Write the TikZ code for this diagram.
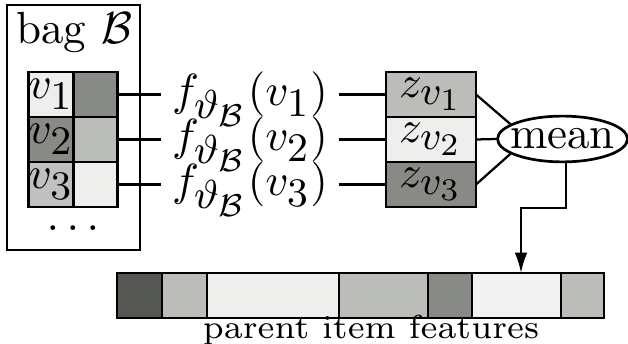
\documentclass[tikz,border=0pt]{standalone}
\usetikzlibrary{shapes.geometric,arrows.meta}
\DeclareMathSizes{10}{10}{9}{7}
\definecolor{gA}{HTML}{EEEEEC}
\definecolor{gB}{HTML}{BBBDB8}
\definecolor{gC}{HTML}{888A85}
\definecolor{gD}{HTML}{555753}
\definecolor{gE}{HTML}{C0C0C0}
\definecolor{gF}{HTML}{F2F2F2}
\begin{document}
\begin{tikzpicture}[x=0.2222pt,y=-0.2222pt,
  cell/.style={draw,line width=0.6pt,inner sep=0pt,outer sep=0pt,minimum width=9.8pt,minimum height=10pt},
  zcell/.style={cell,minimum width=20pt},
  wire/.style={line width=0.5pt},
  flab/.style={anchor=base,inner xsep=2.2pt,inner ysep=0pt},
  lab/.style={inner sep=0pt}]
\useasboundingbox (0,0) rectangle (628,344);
% bag
\node[draw,line width=0.6pt,inner sep=0pt,minimum width=29.55pt,minimum height=54.4pt] (bag) at (73.5,127.5) {};
\node[lab] (bagt) at (74,33) {bag $\mathcal{B}$};
\node[cell,fill=gA] (a1) at (51,94.5) {$v_1$};
\node[cell,fill=gC] (b1) at (95.5,94.5) {};
\node[cell,fill=gC] (a2) at (51,139.5) {$v_2$};
\node[cell,fill=gB] (b2) at (95.5,139.5) {};
\node[cell,fill=gE] (a3) at (51,184.5) {$v_3$};
\node[cell,fill=gA] (b3) at (95.5,184.5) {};
\node[lab] (dots) at (73,228) {$\dots$};
% functions
\node[flab] (f1) at (250,106) {$f_{\vartheta_{\mathcal{B}}}(v_1)$};
\node[flab] (f2) at (250,151) {$f_{\vartheta_{\mathcal{B}}}(v_2)$};
\node[flab] (f3) at (250,196) {$f_{\vartheta_{\mathcal{B}}}(v_3)$};
% z
\node[zcell,fill=gB] (z1) at (431,94.5) {$z_{v_1}$};
\node[zcell,fill=gA] (z2) at (431,139.5) {$z_{v_2}$};
\node[zcell,fill=gC] (z3) at (431,184.5) {$z_{v_3}$};
% mean
\node[ellipse,draw,line width=0.6pt,inner xsep=-1.45pt,inner ysep=1.3pt,minimum width=28.6pt,minimum height=9.6pt] (mean) at (562.5,139) {mean};
% connectors
\draw[wire] (b1.east) -- (b1.east -| f1.west);
\draw[wire] (b2.east) -- (b2.east -| f2.west);
\draw[wire] (b3.east) -- (b3.east -| f3.west);
\draw[wire] (z1.west -| f1.east) -- (z1.west);
\draw[wire] (z2.west -| f2.east) -- (z2.west);
\draw[wire] (z3.west -| f3.east) -- (z3.west);
\draw[wire] (z1.east) -- (mean.164);
\draw[wire] (z2.east) -- (mean.west);
\draw[wire] (z3.east) -- (mean.196);
% bar
\node[cell,fill=gD,minimum width=10pt] (p1) at (139.5,295.5) {};
\node[cell,fill=gB,minimum width=10pt] (p2) at (184.5,295.5) {};
\node[cell,fill=gA,minimum width=29.33pt] (p3) at (273,295.5) {};
\node[cell,fill=gB,minimum width=19.78pt] (p4) at (383.5,295.5) {};
\node[cell,fill=gC,minimum width=9.78pt] (p5) at (450,295.5) {};
\node[cell,fill=gF,minimum width=19.78pt] (p6) at (516.5,295.5) {};
\node[cell,fill=gB,minimum width=9.55pt] (p7) at (582.5,295.5) {};
\coordinate (tip) at (521,273);
\draw[wire,-{Latex[length=4.5pt,width=2.8pt]}] ([xshift=0.75pt]mean.south) -- ++(0,45) -| (tip);
\node[lab,font=\fontsize{7.4}{9}\selectfont,anchor=base] (ptxt) at (371,339) {parent item features};
\end{tikzpicture}
\end{document}
